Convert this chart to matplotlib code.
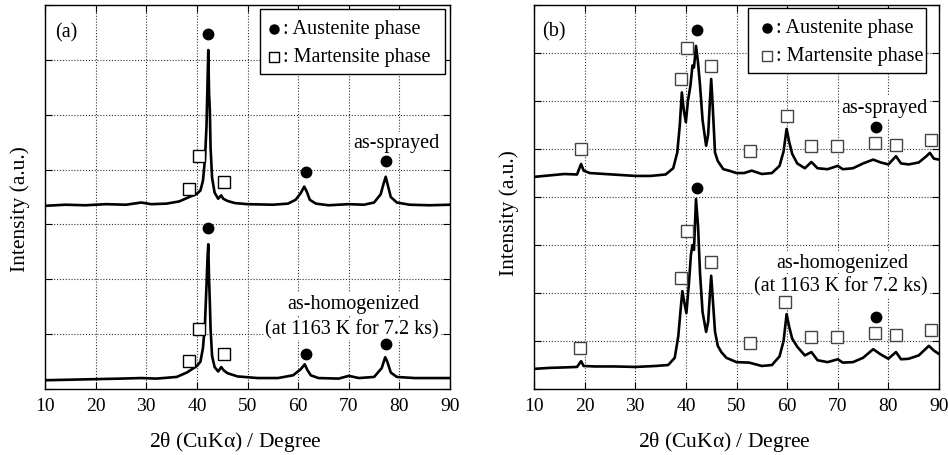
import matplotlib
matplotlib.use("Agg")
import matplotlib.pyplot as plt
from matplotlib.patches import Rectangle

plt.rcParams['font.family'] = ['Liberation Serif', 'DejaVu Serif']
plt.rcParams['mathtext.fontset'] = 'stix'

# ---- (a) patterns (2theta, intensity in grid units) ----
a_spr_x = [10, 14, 18, 22, 26, 29, 31, 34, 36.5, 38, 39, 40, 40.7, 41.2, 41.6, 41.9, 42.1, 42.25,
           42.4, 42.55, 42.7, 43.0, 43.5, 44.2, 44.8, 45.2, 46, 47.5, 50, 55, 58, 59.5, 60.5, 61.2,
           61.7, 62.3, 63.5, 66, 70, 73, 75, 76.3, 76.9, 77.3, 77.7, 78.3, 79.5, 82, 86, 90]
a_spr_y = [3.34, 3.36, 3.35, 3.37, 3.36, 3.40, 3.37, 3.38, 3.42, 3.48, 3.52, 3.56, 3.62, 3.8, 4.2,
           4.8, 5.6, 6.18, 5.4, 5.1, 4.4, 3.85, 3.58, 3.47, 3.53, 3.47, 3.43, 3.39, 3.37, 3.36,
           3.38, 3.45, 3.57, 3.69, 3.6, 3.45, 3.38, 3.35, 3.37, 3.36, 3.40, 3.55, 3.75, 3.87,
           3.72, 3.5, 3.4, 3.36, 3.35, 3.36]

a_hom_x = [10, 15, 20, 25, 29, 32, 36, 38, 39, 40, 40.7, 41.2, 41.6, 41.9, 42.1, 42.25, 42.4,
           42.55, 42.7, 43.0, 43.5, 44.2, 44.8, 45.3, 46, 48, 52, 56, 59, 60.5, 61.3, 61.8, 62.5,
           64, 68, 70, 72, 75, 76.5, 77.2, 77.6, 78.3, 79.5, 83, 90]
a_hom_y = [0.16, 0.17, 0.18, 0.19, 0.2, 0.19, 0.22, 0.3, 0.36, 0.42, 0.5, 0.75, 1.2, 1.9, 2.4,
           2.64, 2.0, 1.6, 1.1, 0.6, 0.4, 0.32, 0.4, 0.34, 0.29, 0.23, 0.2, 0.2, 0.25, 0.36,
           0.45, 0.35, 0.25, 0.2, 0.19, 0.24, 0.2, 0.22, 0.38, 0.58, 0.5, 0.3, 0.22, 0.2, 0.2]

# ---- (b) patterns ----
b_spr_x = [10, 13, 16, 18.5, 19.3, 19.8, 21, 24, 27, 30, 33, 36, 37.5, 38.3, 38.8, 39.2, 39.6,
           40.0, 40.4, 40.9, 41.3, 41.6, 42.0, 42.4, 42.8, 43.3, 44.0, 44.4, 44.7, 45.0, 45.3,
           45.75, 46.3, 47.4, 48.5, 50, 51.5, 53, 55, 57, 58.5, 59.3, 59.9, 60.4, 61, 62, 63.5,
           64.8, 66, 68, 70, 71, 73, 75, 77, 78.5, 80, 81.5, 82.5, 84, 86, 87.5, 88.2, 89, 90]
b_spr_y = [4.42, 4.45, 4.48, 4.47, 4.69, 4.55, 4.5, 4.48, 4.46, 4.44, 4.44, 4.47, 4.6, 4.93,
           5.5, 6.18, 5.8, 5.56, 6.0, 6.32, 6.74, 6.7, 7.15, 6.8, 6.32, 5.6, 5.07, 5.3, 5.9, 6.46,
           5.9, 4.93, 4.75, 4.58, 4.55, 4.5, 4.5, 4.55, 4.48, 4.5, 4.65, 4.95, 5.42, 5.15, 4.9,
           4.7, 4.6, 4.73, 4.6, 4.58, 4.65, 4.58, 4.6, 4.7, 4.78, 4.72, 4.68, 4.85, 4.7, 4.68,
           4.72, 4.85, 4.92, 4.8, 4.78]

b_hom_x = [10, 13, 16, 18.5, 19.3, 19.8, 22, 26, 30, 34, 36.5, 37.8, 38.5, 39.0, 39.3, 39.7,
           40.1, 40.6, 41.0, 41.3, 41.6, 42.0, 42.4, 42.8, 43.3, 44.0, 44.4, 44.7, 45.0, 45.3,
           45.75, 46.3, 47, 48, 50, 52.5, 55, 57, 58.5, 59.3, 59.9, 60.4, 61, 62, 63.5, 64.8, 66,
           68, 70, 71, 73, 75, 77, 78.5, 80, 81.5, 82.5, 84, 86, 88, 89, 90]
b_hom_y = [0.42, 0.44, 0.45, 0.46, 0.58, 0.48, 0.47, 0.47, 0.46, 0.48, 0.5, 0.65, 1.1, 1.7, 2.04,
           1.8, 1.58, 2.2, 2.8, 3.0, 2.9, 3.96, 3.4, 2.4, 1.6, 1.19, 1.4, 1.9, 2.36, 1.9, 1.2,
           0.9, 0.77, 0.65, 0.56, 0.55, 0.48, 0.5, 0.68, 1.0, 1.56, 1.3, 1.05, 0.88, 0.7, 0.77,
           0.6, 0.56, 0.62, 0.55, 0.56, 0.65, 0.83, 0.72, 0.63, 0.77, 0.62, 0.63, 0.7, 0.9, 0.8,
           0.73]

# ---- phase markers ----
a_aus_x = [42.1, 61.5, 77.3, 42.1, 61.5, 77.3]
a_aus_y = [6.47, 3.96, 4.15, 2.94, 0.64, 0.82]
a_mar_x = [38.5, 40.5, 45.4, 38.5, 40.5, 45.4]
a_mar_y = [3.65, 4.24, 3.78, 0.51, 1.09, 0.64]

b_aus_x = [42.1, 77.5, 42.1, 77.5]
b_aus_y = [7.49, 5.46, 4.19, 1.5]
b_mar_x = [19.3, 39.0, 40.3, 44.9, 52.7, 60.0, 64.8, 69.9, 77.4, 81.6, 88.4,
           19.1, 39.0, 40.3, 44.9, 52.6, 59.5, 64.8, 69.9, 77.4, 81.6, 88.4]
b_mar_y = [5.0, 6.46, 7.11, 6.74, 4.96, 5.68, 5.06, 5.06, 5.13, 5.09, 5.19,
           0.85, 2.31, 3.3, 2.65, 0.96, 1.82, 1.09, 1.09, 1.17, 1.13, 1.24]

x_ticks = [10, 20, 30, 40, 50, 60, 70, 80, 90]

fig = plt.figure(figsize=(9.48, 4.56), dpi=100)
ax_a = fig.add_axes([0.0475, 0.1447, 0.4272, 0.842])
ax_b = fig.add_axes([0.5633, 0.1447, 0.4272, 0.842])


def setup(ax, ytop):
    ax.set_xlim(10, 90)
    ax.set_ylim(0, ytop)
    ax.set_xticks(x_ticks)
    ax.set_yticks(range(ytop + 1))
    ax.set_yticklabels([])
    ax.tick_params(direction='in', length=5, width=0.8, labelsize=14, pad=6,
                   top=True, right=True)
    ax.grid(True, linestyle=(0, (1, 1.6)), color='#333333', linewidth=0.8)
    ax.set_axisbelow(True)
    for s in ax.spines.values():
        s.set_linewidth(1.0)
    ax.set_xlabel(r'2$\mathregular{\theta}$ (CuK$\mathregular{\alpha}$) / Degree', fontsize=15.5)
    ax.xaxis.label.set_va('center')
    ax.xaxis.set_label_coords(0.469, -0.135)
    ax.set_ylabel('Intensity (a.u.)', fontsize=15.5)
    ax.yaxis.label.set_va('center')


def legend_box(ax, x0, x1, y0, y1, xm, sq_edge):
    ax.add_patch(Rectangle((x0, y0), x1 - x0, y1 - y0, transform=ax.transAxes,
                           facecolor='white', edgecolor='black', linewidth=1.0, zorder=5))
    ya = y1 - 0.052
    ym = y0 + 0.045
    ax.plot([xm], [ya], 'o', color='black', markersize=6.5, transform=ax.transAxes,
            zorder=6, clip_on=False)
    ax.plot([xm], [ym], 's', mfc='white', mec=sq_edge, mew=1.0, markersize=7,
            transform=ax.transAxes, zorder=6, clip_on=False)
    ax.text(xm + 0.022, ya, ': Austenite phase', transform=ax.transAxes, fontsize=14.5,
            va='center', ha='left', zorder=7)
    ax.text(xm + 0.022, ym, ': Martensite phase', transform=ax.transAxes, fontsize=14.5,
            va='center', ha='left', zorder=7)


white = dict(facecolor='white', edgecolor='none', pad=1.0)

# panel (a)
setup(ax_a, 7)
ax_a.yaxis.set_label_coords(-0.062, 0.47)
ax_a.plot(a_spr_x, a_spr_y, color='black', linewidth=1.9, zorder=3)
ax_a.plot(a_hom_x, a_hom_y, color='black', linewidth=1.9, zorder=3)
ax_a.plot(a_aus_x, a_aus_y, 'o', color='black', markersize=7.5, zorder=4)
ax_a.plot(a_mar_x, a_mar_y, 's', mfc='white', mec='black', mew=1.0, markersize=8, zorder=4)
ax_a.text(0.025, 0.93, '(a)', transform=ax_a.transAxes, fontsize=14.5, va='center')
ax_a.text(79.5, 4.49, 'as-sprayed', fontsize=14.5, ha='center', va='center', bbox=white)
ax_a.text(70.9, 1.55, 'as-homogenized', fontsize=14.5, ha='center', va='center', bbox=white)
ax_a.text(70.6, 1.1, '(at 1163 K for 7.2 ks)', fontsize=14.5, ha='center', va='center',
          bbox=white)
legend_box(ax_a, 0.531, 0.988, 0.820, 0.990, 0.565, 'black')

# panel (b)
setup(ax_b, 8)
ax_b.yaxis.set_label_coords(-0.062, 0.46)
ax_b.plot(b_spr_x, b_spr_y, color='black', linewidth=1.9, zorder=3)
ax_b.plot(b_hom_x, b_hom_y, color='black', linewidth=1.9, zorder=3)
ax_b.plot(b_aus_x, b_aus_y, 'o', color='black', markersize=7.5, zorder=4)
ax_b.plot(b_mar_x, b_mar_y, 's', mfc='white', mec='#444444', mew=1.0, markersize=8, zorder=4)
ax_b.text(0.02, 0.933, '(b)', transform=ax_b.transAxes, fontsize=14.5, va='center')
ax_b.text(79.3, 5.87, 'as-sprayed', fontsize=14.5, ha='center', va='center', bbox=white)
ax_b.text(70.9, 2.64, 'as-homogenized', fontsize=14.5, ha='center', va='center', bbox=white)
ax_b.text(70.6, 2.15, '(at 1163 K for 7.2 ks)', fontsize=14.5, ha='center', va='center',
          bbox=white)
legend_box(ax_b, 0.528, 0.968, 0.823, 0.993, 0.575, '#444444')

fig.savefig('out.png', dpi=100)
